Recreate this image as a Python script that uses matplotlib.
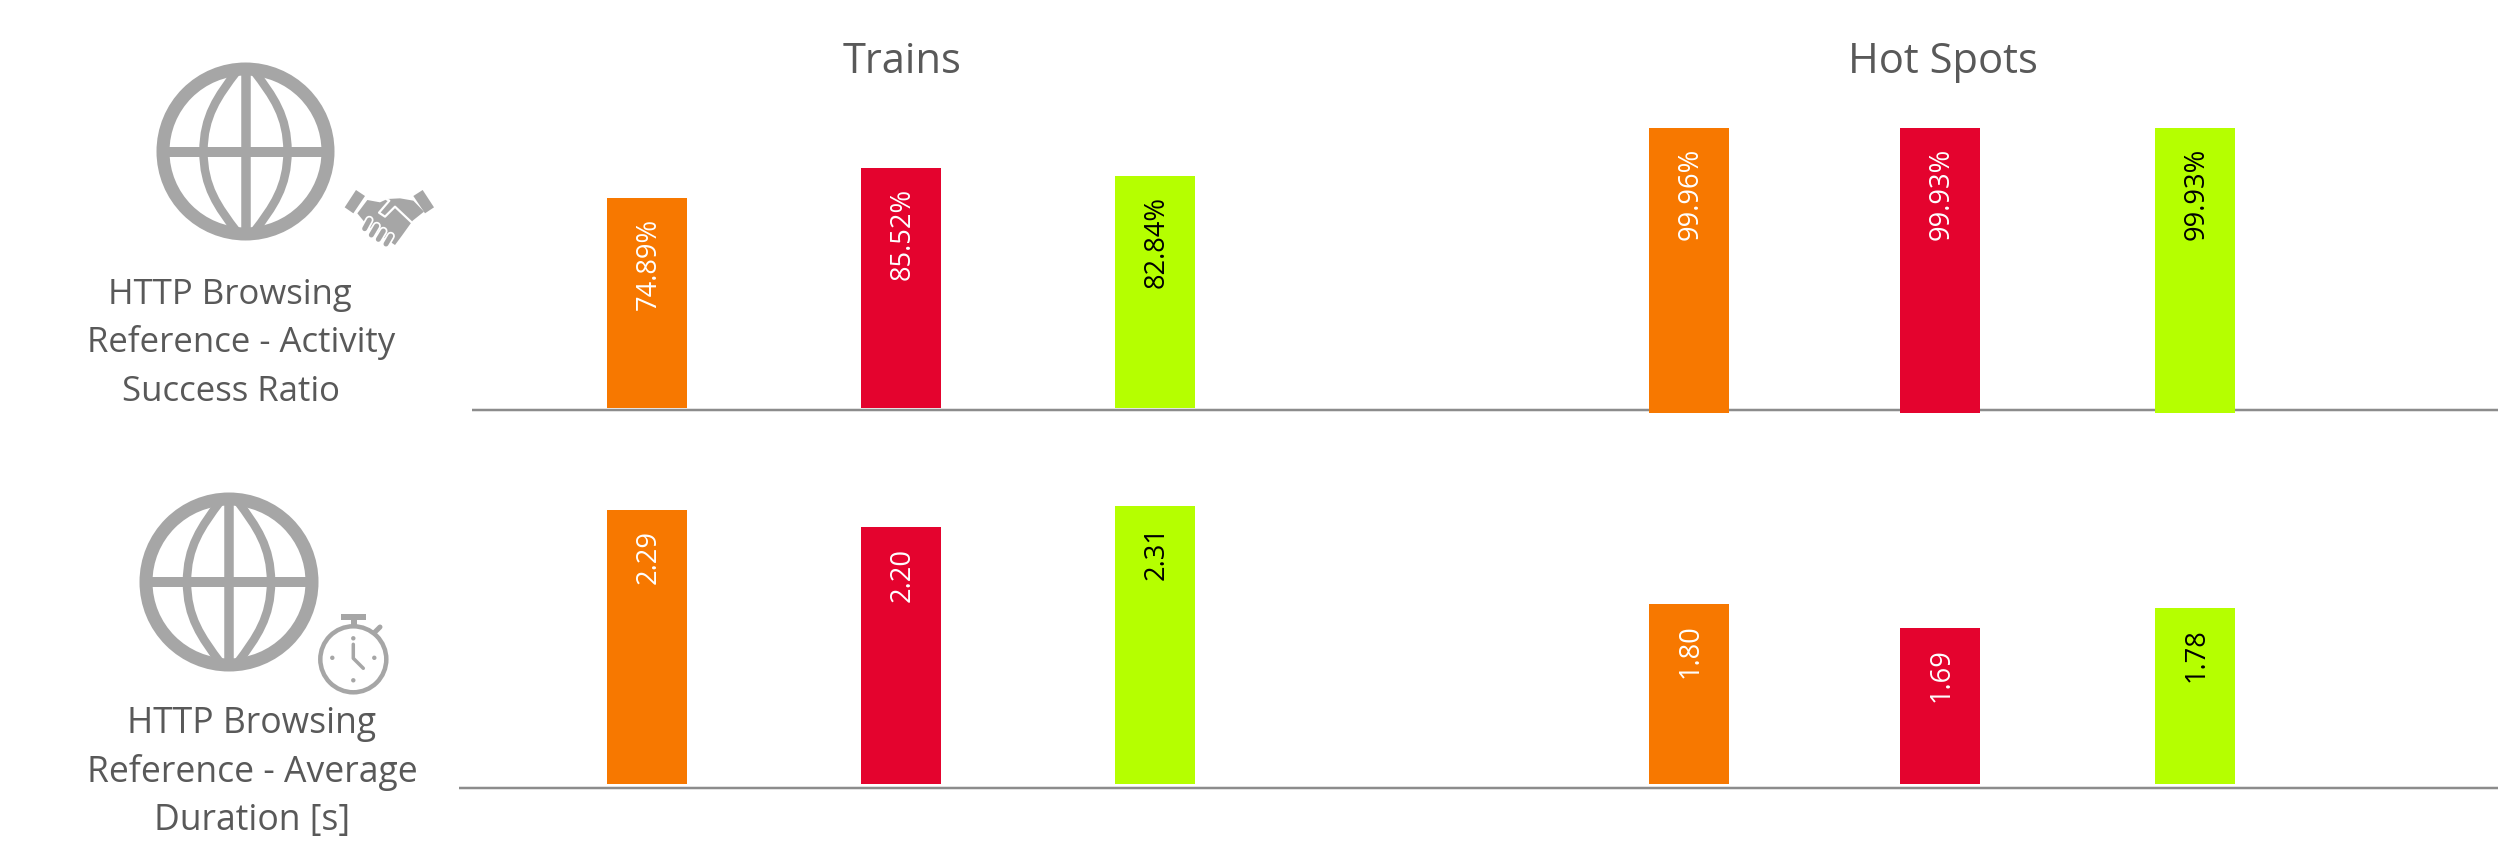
import matplotlib
matplotlib.use("Agg")
import matplotlib.pyplot as plt
from matplotlib.patches import Ellipse, Polygon, Rectangle, PathPatch, Circle
from matplotlib.path import Path

# ---- data ----
success_trains = [74.89, 85.52, 82.84]
success_hotspots = [99.96, 99.93, 99.93]
duration_trains = [2.29, 2.20, 2.31]
duration_hotspots = [1.80, 1.69, 1.78]
group_titles = ["Trains", "Hot Spots"]
row1_lines = ["HTTP Browsing", "Reference - Activity", "Success Ratio"]
row2_lines = ["HTTP Browsing", "Reference - Average", "Duration [s]"]
bar_colors = ["#F77800", "#E4032E", "#B5FF00"]
label_colors = ["white", "white", "black"]

W, H = 2500, 866
ICON = "#A6A6A6"
TEXT = "#595959"
AXIS = "#8C8C8C"
FONT = "Open Sans"
fig = plt.figure(figsize=(W / 100, H / 100), dpi=100, facecolor="white")
lw = lambda p: p * 0.72

# pixel-space overlay for text, rules and icons
ov = fig.add_axes([0, 0, 1, 1], zorder=0)
ov.set_xlim(0, W)
ov.set_ylim(H, 0)
ov.axis("off")


def bars(vals, centers, base, ppu, vmin, fmt):
    left, right = centers[0] - 160, centers[-1] + 160
    top = base - 300
    ax = fig.add_axes([left / W, 1 - base / H, (right - left) / W, (base - top) / H], zorder=2)
    ax.patch.set_alpha(0)
    ax.set_xlim(left, right)
    ax.set_ylim(vmin, vmin + (base - top) / ppu)
    ax.axis("off")
    ax.bar(centers, vals, width=80, color=bar_colors, linewidth=0)
    for x, v, c in zip(centers, vals, label_colors):
        ax.annotate(fmt.format(v), (x, v), xytext=(1.5, -14.5), textcoords="offset points",
                    rotation=90, ha="center", va="top", color=c, fontsize=19.6, family=FONT)
    return ax


bars(success_trains, [647, 901, 1155], 408, 2.804, 0, "{:.2f}%")
bars(success_hotspots, [1689, 1940, 2195], 413, 2.851, 0, "{:.2f}%")
bars(duration_trains, [647, 901, 1155], 783.7, 195, 0.886, "{:.2f}")
bars(duration_hotspots, [1689, 1940, 2195], 783.7, 225, 1.0, "{:.2f}")

# baselines
ov.plot([472, 2498], [410, 410], color=AXIS, lw=lw(2.5), solid_capstyle="butt")
ov.plot([459, 2498], [787.5, 787.5], color=AXIS, lw=lw(2.5), solid_capstyle="butt")

# titles
ov.text(902, 62, group_titles[0], ha="center", va="center", fontsize=30, color=TEXT, family=FONT)
ov.text(1943, 62, group_titles[1], ha="center", va="center", fontsize=30, color=TEXT, family=FONT)
for line, x, y in zip(row1_lines, [230, 241.5, 231], [304, 352.5, 401]):
    ov.text(x, y, line, ha="center", va="baseline", fontsize=25, color=TEXT, family=FONT)
for line, x, y in zip(row2_lines, [252, 252, 252], [733, 782, 830]):
    ov.text(x, y, line, ha="center", va="baseline", fontsize=25.6, color=TEXT, family=FONT)


def globe(cx, cy, r):
    ov.add_patch(Ellipse((cx, cy), 2 * r - 13, 2 * r - 13, fill=False, ec=ICON, lw=lw(13)))
    ov.plot([cx, cx], [cy - r + 8, cy + r - 8], color=ICON, lw=lw(9.5), solid_capstyle="butt")
    ov.plot([cx - r + 8, cx + r - 8], [cy, cy], color=ICON, lw=lw(10), solid_capstyle="butt")
    for s in (-1, 1):
        top = (cx + s * 8, cy - r + 8)
        bot = (cx + s * 8, cy + r - 8)
        p = Path([top, (cx + s * 28, cy - 55), (cx + s * 42, cy - 35), (cx + s * 42, cy),
                  (cx + s * 42, cy + 35), (cx + s * 28, cy + 55), bot],
                 [Path.MOVETO] + [Path.CURVE4] * 6)
        ov.add_patch(PathPatch(p, fill=False, ec=ICON, lw=lw(8.5)))


globe(245.5, 151.5, 89)
globe(229, 582, 89.5)


def hs(*pts):
    return [(330 + x / 3, 170 + y / 3) for x, y in pts]


# handshake
ov.add_patch(Polygon(hs((44, 112), (78, 60), (105, 78), (70, 130)), fc=ICON, ec="none"))
ov.add_patch(Polygon(hs((250, 78), (278, 60), (312, 112), (285, 130)), fc=ICON, ec="none"))
ov.add_patch(Polygon(hs((82, 130), (112, 90), (150, 97), (172, 87), (210, 85), (250, 92), (282, 125),
                        (248, 152), (215, 198), (195, 225), (165, 205), (120, 172), (100, 152)),
                     fc=ICON, ec="none"))
thumb = hs((250, 162), (195, 110), (165, 140), (147, 128), (178, 92), (170, 88))
ov.plot(*zip(*thumb), color="white", lw=lw(2.2), solid_joinstyle="round")
for a, b in [((118, 150), (104, 176)), ((140, 168), (124, 195)),
             ((160, 183), (145, 208)), ((182, 198), (168, 222))]:
    seg = hs(a, b)
    ov.plot(*zip(*seg), color="white", lw=lw(8.5), solid_capstyle="round")
    ov.plot(*zip(*seg), color=ICON, lw=lw(5), solid_capstyle="round")

# stopwatch
cx, cy = 353.3, 659.3
ov.add_patch(Circle((cx, cy), 33, fill=False, ec=ICON, lw=lw(4.5)))
ov.add_patch(Rectangle((341, 613.5), 25, 6.5, fc=ICON, ec="none"))
ov.add_patch(Rectangle((351, 620), 5.5, 7, fc=ICON, ec="none"))
ov.plot([374, 380], [633, 627], color=ICON, lw=lw(5), solid_capstyle="round")
for dx, dy in [(0, -21), (21, -1.5), (0, 21), (-21, -1.5)]:
    ov.add_patch(Circle((cx + dx, cy + dy), 2.2, fc=ICON, ec="none"))
ov.plot([cx, cx, cx + 10], [cy - 15, cy - 1, cy + 9], color=ICON, lw=lw(3.5),
        solid_joinstyle="round", solid_capstyle="round")

fig.savefig("out.png", dpi=100, facecolor="white")
